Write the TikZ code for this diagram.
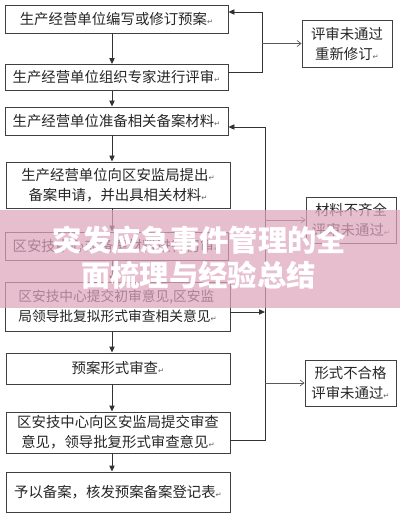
\documentclass[tikz,border=0pt]{standalone}
\usepackage{fontspec}
\newfontfamily\cjk{Noto Sans CJK SC}
\newfontfamily\dejavu{DejaVu Sans}
\usetikzlibrary{arrows.meta}
\newcommand\retmark{{\dejavu\fontsize{5.5}{5.5}\selectfont\color{black!60}↵}}
\definecolor{pinkov}{RGB}{222,165,188}
\begin{document}
\begin{tikzpicture}[x=0.75pt,y=-0.75pt,
  bx/.style 2 args={minimum width=#1*0.75pt, minimum height=#2*0.75pt},
  box/.style={draw=black!75, line width=0.7pt, fill=white, inner sep=1pt,
    font=\cjk\fontsize{10.8}{15}\selectfont, text=black!85, align=center},
  arr/.style={line width=0.7pt, draw=black!80, -{Triangle[length=4.5pt,width=4pt]}},
  oarr/.style={line width=0.5pt, draw=black!65, -{Straight Barb[length=3pt,width=4.5pt]}},
  conn/.style={line width=0.7pt, draw=black!80},
  ovtext/.style={font=\cjk\bfseries\fontsize{22}{26}\selectfont, text=white, inner sep=0pt}]
\fill[white] (0,0) rectangle (400,520);
\useasboundingbox (0,0) rectangle (400,520);

\node[box, bx={223}{28}] (b1) at (116.5,19) {生产经营单位编写或修订预案\retmark};
\node[box, bx={223}{26}] (b2) at (116.5,77.5) {生产经营单位组织专家进行评审\retmark};
\node[box, bx={223}{28}] (b3) at (116.5,121) {生产经营单位准备相关备案材料\retmark};
\node[box, bx={224}{46}] (b4) at (118,185) {生产经营单位向区安监局提出\retmark\\备案申请，并出具相关材料\retmark};
\node[box, bx={223}{28}] (b5) at (116.5,246) {区安技中心对备案材料进行初审\retmark};
\node[box, bx={225}{49}, align=left, font=\cjk\fontsize{10.3}{15}\selectfont] (b6) at (117.5,306.5) {区安技中心提交初审意见,区安监\\局领导批复拟形式审查相关意见\retmark};
\node[box, bx={224}{31}] (b7) at (118,368.5) {预案形式审查\retmark};
\node[box, bx={224}{41}] (b8) at (118,432.5) {区安技中心向区安监局提交审查\\意见，领导批复形式审查意见\retmark};
\node[box, bx={224}{40}] (b9) at (118,492) {予以备案，核发预案备案登记表\retmark};

\node[box, bx={90}{47}] (r1) at (347,43.5) {评审未通过\\重新修订\retmark};
\node[box, bx={90}{46}] (r2) at (351,220) {材料不齐全\\评审未通过\retmark};
\node[box, bx={91}{46}] (r3) at (350.5,383) {形式不合格\\评审未通过\retmark};

\coordinate (ax) at (112,0);
\foreach \a/\b in {b1/b2,b2/b3,b3/b4,b4/b5,b5/b6,b6/b7,b7/b8,b8/b9}
  \draw[arr] (\a.south -| ax) -- (\b.north -| ax);

% loop 1
\coordinate (j1) at (262,12);
\coordinate (j1b) at (262,43.5);
\coordinate (e2) at ([yshift=3.4pt]b2.east);
\draw[conn] (e2) -| (j1);
\draw[arr] (j1) -- (b1.east |- j1);
\draw[oarr] (j1b) -- (r1.west);

% loop 2
\coordinate (j2) at (265,127);
\coordinate (e8) at ([yshift=-5.6pt]b8.east);
\coordinate (e6) at ([yshift=-4.1pt]b6.east);
\draw[conn] (e8) -| (j2);
\draw[arr] (j2) -- (b3.east |- j2);
\draw[arr] (e6) -- (e6 -| j2);
\draw[oarr] (r2.west -| j2) -- (r2.west);
\draw[oarr] (r3.west -| j2) -- (r3.west);

% overlay banner
\fill[pinkov, opacity=0.72] (0,210) rectangle (400,308);
\node[ovtext] (t1) at (199.5,240) {突发应急事件管理的全};
\node[ovtext] (t2) at (198.5,275) {面梳理与经验总结};
\end{tikzpicture}
\end{document}
